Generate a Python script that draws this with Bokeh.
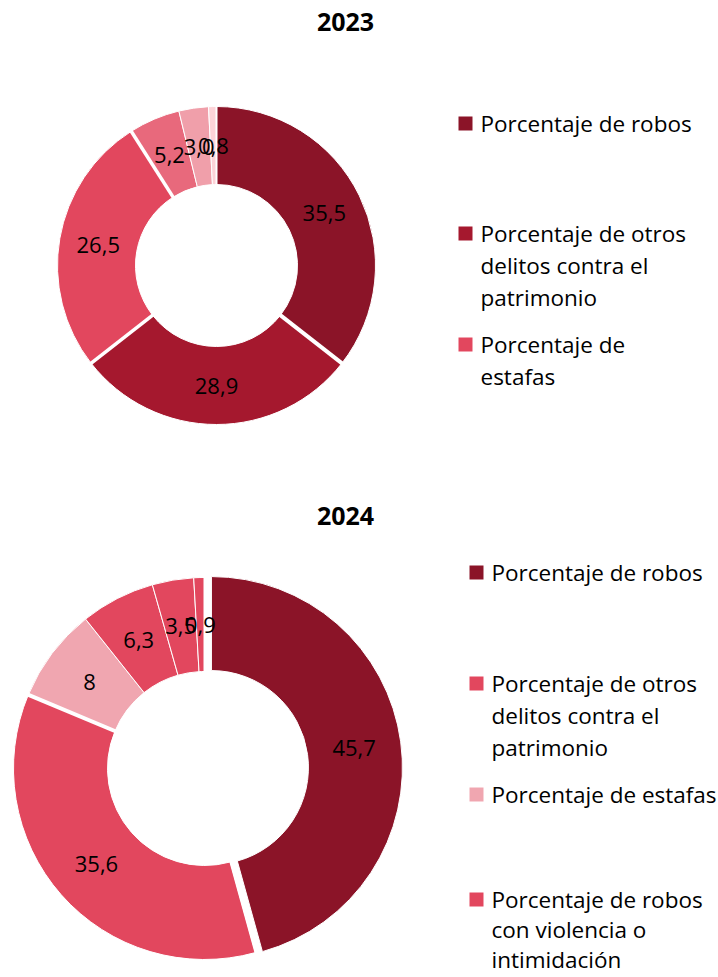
import math
from bokeh.plotting import figure
from bokeh.models import Range1d, ColumnDataSource
from bokeh.core.properties import value
from bokeh.embed import file_html
from bokeh.resources import INLINE

# ---------------- data ----------------
titles = ["2023", "2024"]

values_2023 = [35.5, 28.9, 26.5, 5.2, 3.0, 0.8]
labels_2023 = ["35,5", "28,9", "26,5", "5,2", "3,0", "0,8"]
colors_2023 = ["#8B1428", "#A5182E", "#E2475E", "#E8697C", "#F09FAA", "#FDD3D8"]

values_2024 = [45.7, 35.6, 8.0, 6.3, 3.5, 0.9]
labels_2024 = ["45,7", "35,6", "8", "6,3", "3,5", "0,9"]
colors_2024 = ["#8B1428", "#E2475E", "#F0A6B0", "#E2475E", "#E2475E", "#E2475E"]

legend_text_2023 = [
    ["Porcentaje de robos"],
    ["Porcentaje de otros", "delitos contra el", "patrimonio"],
    ["Porcentaje de", "estafas"],
]
legend_colors_2023 = ["#8B1428", "#A5182E", "#E2475E"]

legend_text_2024 = [
    ["Porcentaje de robos"],
    ["Porcentaje de otros", "delitos contra el", "patrimonio"],
    ["Porcentaje de estafas"],
    ["Porcentaje de robos", "con violencia o", "intimidación"],
]
legend_colors_2024 = ["#8B1428", "#E2475E", "#F0A6B0", "#E2475E"]

# ---------------- layout / style ----------------
W, H = 718, 977
FONT = "Open Sans"


def X(ix):
    return ix


def Y(iy):
    return H - iy


p = figure(width=W, height=H, x_range=Range1d(0, W), y_range=Range1d(0, H),
           output_backend="svg", toolbar_location=None, min_border=0)
p.axis.visible = False
p.grid.visible = False
p.outline_line_color = None
p.background_fill_color = "white"


def donut(cx, cy, R, r, vals, labels, colors, explode, gaps):
    total = sum(vals)
    cum = 0.0
    xs, ys, a0s, a1s, lx, ly, bang = [], [], [], [], [], [], []
    for i, v in enumerate(vals):
        a0 = math.pi / 2 - 2 * math.pi * cum / total
        a1 = math.pi / 2 - 2 * math.pi * (cum + v) / total
        mid = (a0 + a1) / 2
        ox = explode[i] * math.cos(mid)
        oy = explode[i] * math.sin(mid)
        xs.append(cx + ox)
        ys.append(cy + oy)
        a0s.append(a0)
        a1s.append(a1)
        rm = (R + r) / 2
        lx.append(cx + ox + rm * math.cos(mid))
        ly.append(cy + oy + rm * math.sin(mid))
        bang.append(a0)
        cum += v
    src = ColumnDataSource(dict(x=xs, y=ys, a0=a0s, a1=a1s, color=colors))
    p.annular_wedge(x="x", y="y", inner_radius=r, outer_radius=R,
                    start_angle="a0", end_angle="a1", direction="clock",
                    fill_color="color", line_color="white", line_width=1,
                    source=src)
    # separators
    sx0, sy0, sx1, sy1, sw = [], [], [], [], []
    for a, g in zip(bang, gaps):
        if g <= 0:
            continue
        sx0.append(cx + (r - 3) * math.cos(a))
        sy0.append(cy + (r - 3) * math.sin(a))
        sx1.append(cx + (R + 3) * math.cos(a))
        sy1.append(cy + (R + 3) * math.sin(a))
        sw.append(g)
    p.segment(x0=sx0, y0=sy0, x1=sx1, y1=sy1, line_color="white", line_width=sw)
    p.text(x=lx, y=ly, text=labels, text_align="center", text_baseline="middle",
           text_font=value(FONT), text_font_size=value("22px"), text_color="#000000")


def legend(sq_x, text_x, entry_y, texts, colors, line_hs):
    for y0, lines, c, lh in zip(entry_y, texts, colors, line_hs):
        p.rect(x=[X(sq_x)], y=[Y(y0)], width=14, height=14, fill_color=c,
               line_color=None)
        for k, t in enumerate(lines):
            p.text(x=[X(text_x)], y=[Y(y0 + k * lh)], text=[t],
                   text_align="left", text_baseline="middle",
                   text_font=value(FONT), text_font_size=value("22.5px"),
                   text_color="#000000")


# titles
for t, ty in zip(titles, [21, 515]):
    p.text(x=[X(345)], y=[Y(ty)], text=[t], text_align="center",
           text_baseline="middle", text_font=value(FONT),
           text_font_size=value("25px"), text_font_style="bold",
           text_color="#000000")

# 2023 donut
donut(X(216), Y(265), 159, 81, values_2023, labels_2023, colors_2023,
      explode=[0, 0, 0, 0, 0, 0], gaps=[2, 4, 3.5, 3.5, 0, 0])
# 2024 donut
donut(X(204), Y(768), 191, 97, values_2024, labels_2024, colors_2024,
      explode=[7, 0, 0, 0, 0, 0], gaps=[2, 2, 4, 0, 0, 0])

legend(465, 480, [123, 233, 344], legend_text_2023, legend_colors_2023,
       [32, 32, 32])
legend(476, 491, [572, 683, 794, 899], legend_text_2024, legend_colors_2024,
       [32, 32, 32, 30])

open("out.html", "w").write(file_html(p, INLINE))
